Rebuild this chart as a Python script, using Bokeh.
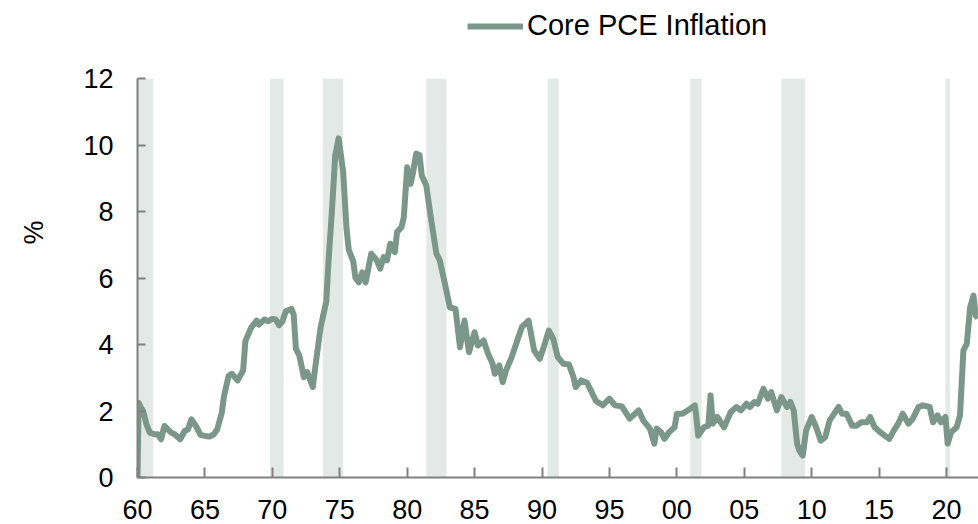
from math import pi
from bokeh.plotting import figure
from bokeh.layouts import column
from bokeh.models import (Range1d, FixedTicker, BoxAnnotation, Legend, LegendItem,
                          LinearAxis, ColumnDataSource)
from bokeh.embed import file_html
from bokeh.resources import INLINE

# ---- data ----
months = [
    "1960-01", "1960-02", "1960-04", "1960-06", "1960-09", "1960-12", "1961-04", "1961-07",
    "1961-10", "1962-01", "1962-04", "1962-07", "1962-10", "1963-03", "1963-07", "1963-10",
    "1964-01", "1964-05", "1964-09", "1965-01", "1965-05", "1965-09", "1965-12", "1966-04",
    "1966-06", "1966-10", "1967-01", "1967-06", "1967-11", "1968-01", "1968-06", "1968-11",
    "1969-01", "1969-06", "1969-09", "1970-01", "1970-04", "1970-07", "1970-10", "1971-01",
    "1971-06", "1971-08", "1971-10", "1972-01", "1972-05", "1972-08", "1973-01", "1973-04",
    "1973-08", "1974-01", "1974-03", "1974-06", "1974-09", "1974-12", "1975-04", "1975-07",
    "1975-09", "1976-01", "1976-03", "1976-06", "1976-09", "1976-12", "1977-05", "1977-10",
    "1978-01", "1978-04", "1978-07", "1978-10", "1979-02", "1979-04", "1979-08", "1979-10",
    "1980-01", "1980-04", "1980-06", "1980-09", "1980-12", "1981-02", "1981-06", "1981-10",
    "1982-03", "1982-06", "1982-10", "1983-03", "1983-08", "1983-12", "1984-04", "1984-08",
    "1985-01", "1985-04", "1985-09", "1986-01", "1986-05", "1986-07", "1986-11", "1987-02",
    "1987-05", "1987-10", "1988-03", "1988-07", "1989-01", "1989-06", "1989-11", "1990-03",
    "1990-07", "1990-11", "1991-03", "1991-08", "1992-01", "1992-05", "1992-07", "1992-12",
    "1993-05", "1993-08", "1994-01", "1994-07", "1995-01", "1995-06", "1995-12", "1996-07",
    "1997-03", "1997-07", "1998-01", "1998-05", "1998-07", "1998-11", "1999-02", "1999-06",
    "1999-11", "2000-01", "2000-06", "2001-01", "2001-05", "2001-06", "2001-08", "2002-01",
    "2002-05", "2002-07", "2002-09", "2003-01", "2003-07", "2004-01", "2004-06", "2004-10",
    "2005-03", "2005-06", "2005-10", "2006-01", "2006-06", "2006-10", "2007-01", "2007-06",
    "2007-10", "2008-03", "2008-06", "2008-09", "2008-12", "2009-02", "2009-05", "2009-08",
    "2010-01", "2010-05", "2010-09", "2011-01", "2011-05", "2011-09", "2012-01", "2012-04",
    "2012-08", "2013-01", "2013-05", "2013-09", "2014-02", "2014-05", "2014-09", "2015-02",
    "2015-06", "2015-10", "2016-02", "2016-06", "2016-10", "2017-03", "2017-07", "2017-12",
    "2018-04", "2018-10", "2019-01", "2019-05", "2019-08", "2019-12", "2020-02", "2020-05",
    "2020-10", "2021-01", "2021-04", "2021-07", "2021-10", "2022-01", "2022-03", "2022-05",
]
core_pce = [
    0.00, 2.25, 2.10, 2.00, 1.60, 1.35, 1.30, 1.30,
    1.15, 1.55, 1.45, 1.35, 1.30, 1.15, 1.40, 1.45,
    1.75, 1.55, 1.28, 1.25, 1.23, 1.30, 1.45, 1.95,
    2.45, 3.05, 3.12, 2.92, 3.22, 4.10, 4.50, 4.72,
    4.60, 4.75, 4.70, 4.77, 4.75, 4.58, 4.70, 5.00,
    5.07, 4.90, 3.87, 3.67, 3.02, 3.17, 2.72, 3.52,
    4.52, 5.30, 6.50, 8.00, 9.70, 10.20, 9.20, 7.50,
    6.85, 6.50, 6.00, 5.87, 6.17, 5.87, 6.73, 6.53,
    6.28, 6.63, 6.53, 7.03, 6.78, 7.38, 7.53, 7.83,
    9.33, 8.83, 9.13, 9.74, 9.70, 9.08, 8.78, 7.83,
    6.73, 6.53, 5.92, 5.12, 5.07, 3.92, 4.72, 3.77,
    4.37, 3.97, 4.12, 3.72, 3.42, 3.12, 3.37, 2.87,
    3.22, 3.62, 4.12, 4.52, 4.72, 3.82, 3.57, 3.97,
    4.42, 4.17, 3.62, 3.42, 3.40, 3.02, 2.72, 2.92,
    2.85, 2.65, 2.30, 2.17, 2.37, 2.17, 2.14, 1.77,
    2.02, 1.72, 1.47, 1.02, 1.47, 1.36, 1.16, 1.36,
    1.51, 1.92, 1.92, 2.07, 2.17, 1.92, 1.26, 1.51,
    1.56, 2.47, 1.62, 1.82, 1.51, 1.97, 2.12, 2.02,
    2.22, 2.12, 2.27, 2.22, 2.67, 2.37, 2.57, 2.02,
    2.42, 2.12, 2.27, 2.02, 1.02, 0.81, 0.66, 1.41,
    1.82, 1.51, 1.11, 1.21, 1.72, 1.92, 2.12, 1.92,
    1.92, 1.56, 1.56, 1.66, 1.66, 1.82, 1.51, 1.36,
    1.26, 1.16, 1.41, 1.62, 1.92, 1.62, 1.77, 2.12,
    2.17, 2.12, 1.66, 1.87, 1.66, 1.82, 1.02, 1.36,
    1.51, 1.87, 3.82, 4.02, 5.12, 5.47, 4.87, 4.80,
]
recession_start = ["1960-01", "1969-11", "1973-10", "1981-06", "1990-06", "2001-01", "2007-10", "2019-12"]
recession_end   = ["1961-03", "1970-11", "1975-04", "1982-12", "1991-04", "2001-11", "2009-07", "2020-04"]
x_ticks = [1960, 1965, 1970, 1975, 1980, 1985, 1990, 1995, 2000, 2005, 2010, 2015, 2020]
x_tick_labels = ["60", "65", "70", "75", "80", "85", "90", "95", "00", "05", "10", "15", "20"]
y_ticks = [0, 2, 4, 6, 8, 10, 12]
series_name = "Core PCE Inflation"
unit_label = "%"


def to_year(s):
    y, m = s.split("-")
    return int(y) + (int(m) - 1) / 12.0


LINE = "#7b978b"
SHADE = "#e3e9e7"
AXIS = "#808080"
FONT = "Liberation Sans"
UNIT_POS = 7.73  # vertical placement of the "%" unit text (layout only)
LEG_H = 42       # height of the legend strip above the chart

src = ColumnDataSource(dict(x=[to_year(m) for m in months], y=core_pce))

# ---------------- main chart ----------------
p = figure(width=978, height=524 - LEG_H, output_backend="svg", toolbar_location=None,
           x_range=Range1d(1960, 2022.37), y_range=Range1d(0, 12),
           min_border_left=137, min_border_right=0, min_border_top=78 - LEG_H,
           min_border_bottom=47)
p.outline_line_color = None
p.grid.visible = False
p.background_fill_color = "white"

for s, e in zip(recession_start, recession_end):
    p.add_layout(BoxAnnotation(left=to_year(s), right=to_year(e), fill_color=SHADE,
                               fill_alpha=1.0, line_color=None, level="underlay"))

r = p.line("x", "y", source=src, line_color=LINE, line_width=6, line_join="round")

p.xaxis.ticker = FixedTicker(ticks=x_ticks)
p.xaxis.major_label_overrides = {t: l for t, l in zip(x_ticks, x_tick_labels)}
p.yaxis.ticker = FixedTicker(ticks=y_ticks)
for ax in (p.xaxis, p.yaxis):
    ax.axis_line_color = AXIS
    ax.axis_line_width = 2
    ax.major_tick_line_color = AXIS
    ax.major_tick_line_width = 2
    ax.major_tick_out = 0
    ax.minor_tick_line_color = None
    ax.major_label_text_font = FONT
    ax.major_label_text_font_size = "27px"
    ax.major_label_text_color = "black"
p.xaxis.major_tick_in = 10
p.yaxis.major_tick_in = 8
p.xaxis.major_label_standoff = 22
p.yaxis.major_label_standoff = 24

# unit text "%" on the far left (rotated), as an extra bare axis
unit_axis = LinearAxis(ticker=FixedTicker(ticks=[UNIT_POS]),
                       major_label_overrides={UNIT_POS: unit_label},
                       major_label_orientation=pi / 2,
                       axis_line_color=None, major_tick_line_color=None,
                       minor_tick_line_color=None, major_tick_in=0, major_tick_out=0,
                       major_label_standoff=46,
                       major_label_text_font=FONT, major_label_text_font_size="27px",
                       major_label_text_color="black")
p.add_layout(unit_axis, "left")

# ---------------- legend strip (frame is aligned with the chart's frame) ----------------
lf = figure(width=978, height=LEG_H, output_backend="svg", toolbar_location=None,
            x_range=Range1d(0, 1), y_range=Range1d(50, 51), min_border=0)
lf.outline_line_color = None
lf.axis.visible = False
lf.grid.visible = False
# same series, kept out of this strip's view: it only supplies the legend glyph
lr = lf.line("x", "y", source=src, line_color=LINE, line_width=6)
legend = Legend(items=[LegendItem(label=series_name, renderers=[lr])],
                location=(330, 0), padding=0, margin=0, spacing=0,
                border_line_color=None, background_fill_alpha=0,
                label_text_font=FONT, label_text_font_size="29px",
                label_text_color="black", glyph_width=56, glyph_height=30,
                label_standoff=4)
lf.add_layout(legend)

layout = column(lf, p, spacing=0)
open("out.html", "w").write(file_html(layout, INLINE))
